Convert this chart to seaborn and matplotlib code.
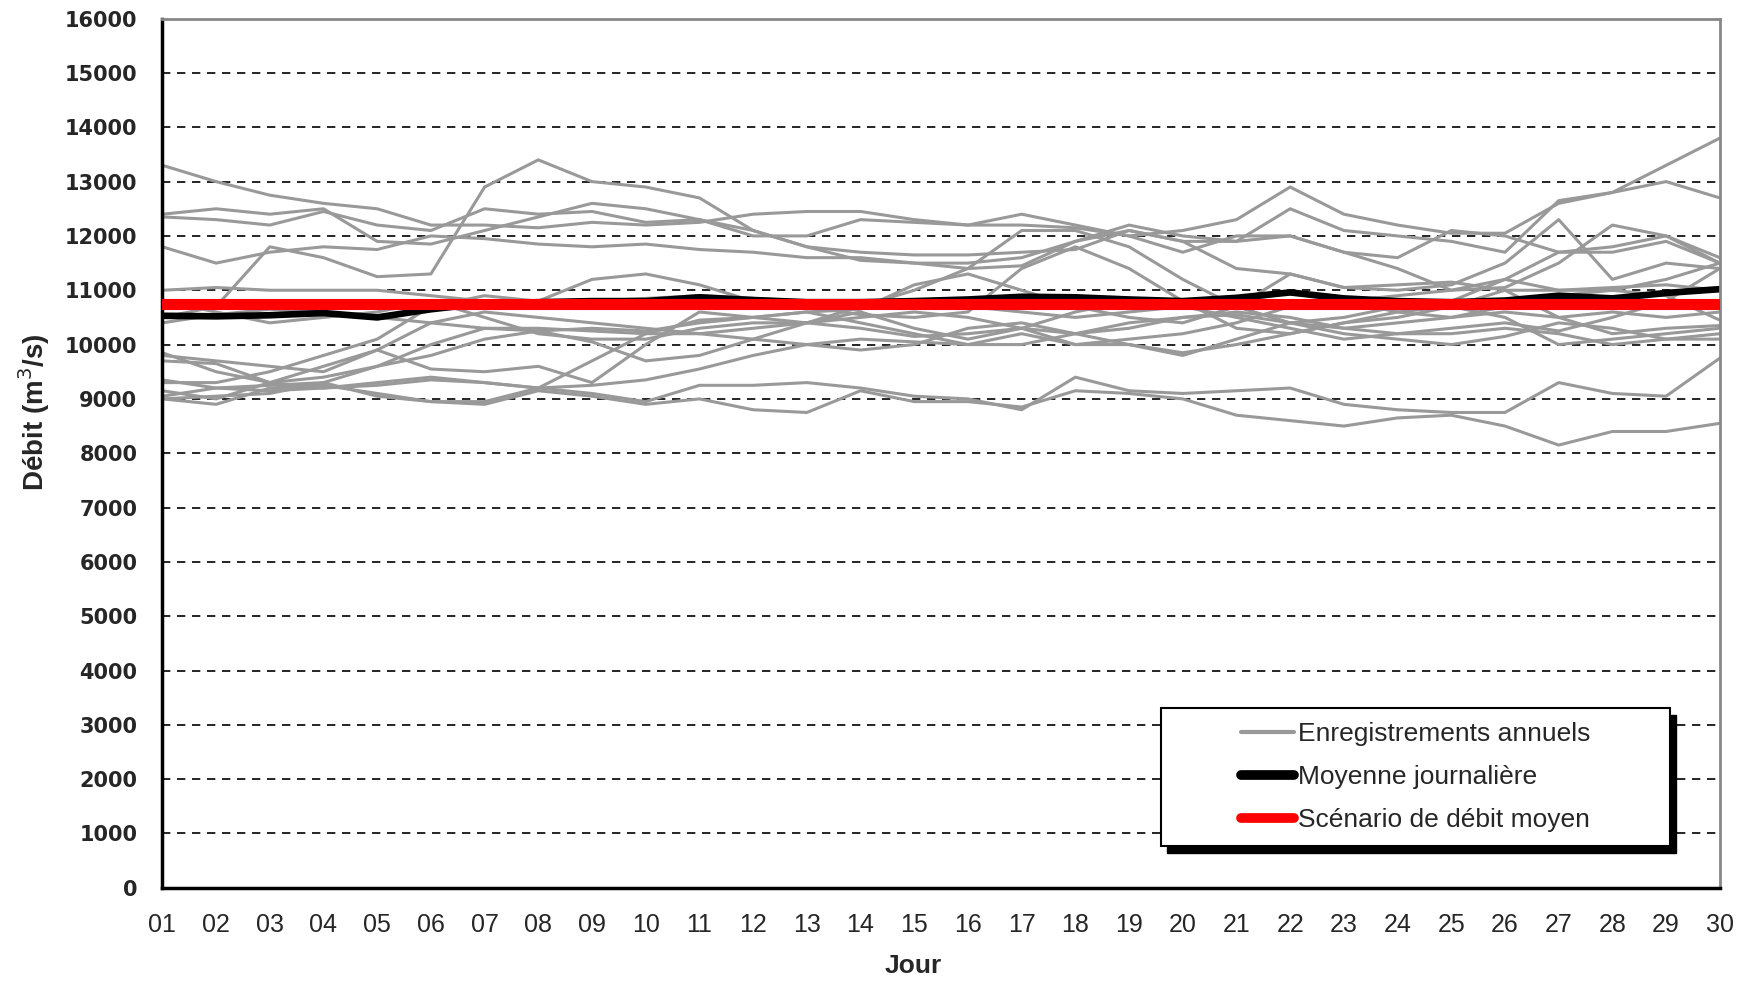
import numpy as np
import pandas as pd
import matplotlib
matplotlib.use("Agg")
import matplotlib.pyplot as plt
import seaborn as sns
from matplotlib.lines import Line2D
from matplotlib.patches import Rectangle

# jours du mois
jours = list(range(1, 31))
jour_labels = ["%02d" % j for j in jours]

# enregistrements annuels (m3/s)
g01 = [13300, 13000, 12750, 12600, 12500, 12200, 12200, 12150, 12250, 12200, 12250, 12400, 12450, 12450, 12300,
       12200, 12200, 12150, 12000, 12100, 12300, 12900, 12400, 12200, 12050, 12050, 12600, 12800, 13300, 13800]
g02 = [12400, 12500, 12400, 12500, 11900, 11850, 12100, 12350, 12600, 12500, 12300, 12100, 11800, 11700, 11650,
       11650, 11700, 11750, 12100, 11900, 11900, 12500, 12100, 12000, 11900, 11700, 12650, 12800, 13000, 12700]
g03 = [12350, 12300, 12200, 12450, 12200, 12100, 12500, 12400, 12450, 12250, 12300, 12000, 12000, 12300, 12250,
       12200, 12400, 12200, 12000, 11700, 12000, 12000, 11700, 11600, 12100, 12000, 11700, 11800, 12000, 11500]
g04 = [11800, 11500, 11700, 11800, 11750, 12000, 11950, 11850, 11800, 11850, 11750, 11700, 11600, 11600, 11500,
       11500, 11600, 11900, 12200, 12000, 11900, 12000, 11700, 11400, 11000, 11050, 11500, 12200, 12000, 11600]
g05 = [10500, 10700, 11800, 11600, 11250, 11300, 12900, 13400, 13000, 12900, 12700, 12100, 11800, 11550, 11500,
       11400, 11450, 11900, 12100, 11900, 11400, 11300, 11050, 11000, 11100, 11500, 12300, 11200, 11500, 11400]
g06 = [11000, 11050, 11000, 11000, 11000, 10900, 10800, 10750, 10800, 10850, 10900, 10850, 10800, 10800, 10750,
       10700, 10600, 10500, 10600, 10700, 10800, 10950, 10800, 10900, 11000, 11200, 11000, 11050, 11100, 11000]
g07 = [10400, 10550, 10650, 10600, 10500, 10400, 10300, 10250, 10300, 10250, 10400, 10500, 10600, 10650, 11100,
       11300, 11000, 10700, 10500, 10400, 10700, 11300, 11050, 11100, 11150, 11000, 11000, 11000, 10900, 10450]
g08 = [9800, 9700, 9600, 9500, 9900, 10400, 10600, 10500, 10400, 10300, 10200, 10300, 10400, 10600, 10300,
       10100, 10300, 10600, 10800, 10700, 10500, 10300, 10100, 10200, 10300, 10400, 10250, 10500, 10800, 11400]
g09 = [9850, 9500, 9300, 9400, 9600, 10000, 10300, 10300, 10250, 10200, 10450, 10500, 10400, 10300, 10150,
       10200, 10300, 10000, 10100, 10200, 10400, 10700, 10800, 10600, 10500, 10700, 10900, 11000, 11200, 11500]
g10 = [9300, 9300, 9500, 9800, 10100, 10700, 10900, 10800, 11200, 11300, 11100, 10800, 10700, 10550, 10500,
       10600, 11400, 11800, 11400, 10800, 10300, 10200, 10400, 10500, 10700, 11000, 10500, 10200, 10300, 10350]
g11 = [9050, 9200, 9250, 9300, 9600, 9800, 10100, 10250, 10050, 9700, 9800, 10100, 10400, 10700, 11000,
       11400, 12100, 12100, 11800, 11200, 10700, 10400, 10500, 10700, 10800, 11200, 11700, 11700, 11900, 11500]
g12 = [9150, 9000, 9300, 9600, 9900, 9550, 9500, 9600, 9300, 10000, 10600, 10500, 10600, 10400, 10200,
       10000, 10200, 10000, 10000, 9850, 10000, 10200, 10400, 10600, 10700, 10500, 10000, 10100, 10200, 10300]
g13 = [9700, 9650, 9300, 9200, 9300, 9400, 9300, 9200, 9700, 10200, 10200, 10100, 10000, 9900, 10000,
       10300, 10400, 10200, 10000, 9800, 10100, 10400, 10200, 10100, 10000, 10150, 10400, 10300, 10100, 10100]
g14 = [10800, 10600, 10400, 10500, 10600, 10800, 10500, 10200, 10100, 10100, 10300, 10400, 10400, 10500, 10600,
       10500, 10300, 10200, 10300, 10500, 10600, 10500, 10300, 10400, 10500, 10600, 10500, 10600, 10500, 10600]
g15 = [9350, 9200, 9150, 9200, 9250, 9350, 9300, 9200, 9250, 9350, 9550, 9800, 10000, 10100, 10050,
       10000, 10000, 10200, 10400, 10500, 10550, 10400, 10300, 10200, 10200, 10300, 10200, 10000, 10100, 10200]
g16 = [9000, 8900, 9200, 9250, 9100, 8950, 8950, 9200, 9100, 8950, 9250, 9250, 9300, 9200, 9050,
       9000, 8800, 9400, 9150, 9100, 9150, 9200, 8900, 8800, 8750, 8750, 9300, 9100, 9050, 9750]
g17 = [9000, 9050, 9100, 9300, 9050, 8950, 8900, 9150, 9050, 8900, 9000, 8800, 8750, 9150, 8950,
       8950, 8850, 9150, 9100, 9000, 8700, 8600, 8500, 8650, 8700, 8500, 8150, 8400, 8400, 8550]
annees = [g01, g02, g03, g04, g05, g06, g07, g08, g09, g10, g11, g12, g13, g14, g15, g16, g17]

# moyenne journaliere
moyenne = [10530, 10520, 10540, 10580, 10500, 10650, 10760, 10780, 10800, 10800, 10870, 10820, 10780, 10780, 10800,
           10830, 10880, 10870, 10830, 10800, 10860, 10960, 10850, 10800, 10780, 10810, 10900, 10850, 10950, 11020]

# scenario de debit moyen
scenario = 10750

rows = []
for i, serie in enumerate(annees):
    for j, v in zip(jours, serie):
        rows.append({"annee": i, "jour": j, "debit": v})
df = pd.DataFrame(rows)
df_moy = pd.DataFrame({"jour": jours, "debit": moyenne})

sns.set_style("white")
plt.rcParams['font.family'] = ['Liberation Sans', 'DejaVu Sans']
narrow = ['Liberation Sans Narrow', 'Liberation Sans']

fig = plt.figure(figsize=(17.46, 9.81), dpi=100)
ax = fig.add_axes([0.093, 0.095, 0.892, 0.886])

sns.lineplot(data=df, x="jour", y="debit", units="annee", estimator=None,
             color="#999999", linewidth=2.2, ax=ax, legend=False)
sns.lineplot(data=df_moy, x="jour", y="debit", color="black", linewidth=4.8, ax=ax, legend=False)
ax.axhline(scenario, color="#ff0000", linewidth=8, zorder=5)

ax.set_xlim(1, 30)
ax.set_ylim(0, 16000)
ax.set_xticks(jours)
ax.set_xticklabels(jour_labels)
ax.set_yticks(range(0, 16001, 1000))
for t in ax.get_yticklabels():
    t.set_family('DejaVu Sans')
    t.set_fontweight('bold')
    t.set_fontsize(15)
for t in ax.get_xticklabels():
    t.set_family(narrow)
    t.set_fontsize(18)

for yv in range(1000, 16000, 1000):
    ax.axhline(yv, color="black", linewidth=1.2, linestyle=(0, (5, 4)), zorder=0)

ax.tick_params(axis="both", direction="out", length=8, width=1.5, color="black", pad=10)
ax.spines["left"].set_linewidth(2.5)
ax.spines["bottom"].set_linewidth(2.5)
ax.spines["left"].set_color("black")
ax.spines["bottom"].set_color("black")
ax.spines["top"].set_color("#888888")
ax.spines["right"].set_color("#888888")
ax.spines["top"].set_linewidth(2)
ax.spines["right"].set_linewidth(2)

ax.set_xlabel("Jour", fontsize=19, fontweight="bold", family=narrow)
ax.set_ylabel("Débit (m$^3$/s)", fontsize=20, fontweight="bold", family=narrow)
ax.xaxis.set_label_coords(0.482, -0.076)
ax.yaxis.set_label_coords(-0.071, 0.547)

# cadre de la legende avec ombre noire
box_x0, box_y0, box_w, box_h = 0.641, 0.048, 0.327, 0.159
ax.add_patch(Rectangle((box_x0 + 0.004, box_y0 - 0.008), box_w, box_h, transform=ax.transAxes,
                       facecolor="black", edgecolor="black", zorder=9, clip_on=False))
ax.add_patch(Rectangle((box_x0, box_y0), box_w, box_h, transform=ax.transAxes,
                       facecolor="white", edgecolor="black", linewidth=1.5, zorder=10, clip_on=False))

handles = [Line2D([], [], color="#999999", linewidth=3),
           Line2D([], [], color="black", linewidth=7, solid_capstyle="round"),
           Line2D([], [], color="#ff0000", linewidth=7, solid_capstyle="round")]
labels = ["Enregistrements annuels", "Moyenne journalière", "Scénario de débit moyen"]
leg = ax.legend(handles, labels, loc="center", bbox_to_anchor=(box_x0 + box_w / 2, box_y0 + box_h / 2),
                fontsize=19, frameon=False, handlelength=2.0, handletextpad=0.15,
                labelspacing=0.72, borderpad=0, borderaxespad=0)
leg.set_zorder(11)

fig.savefig("out.png", dpi=100)
